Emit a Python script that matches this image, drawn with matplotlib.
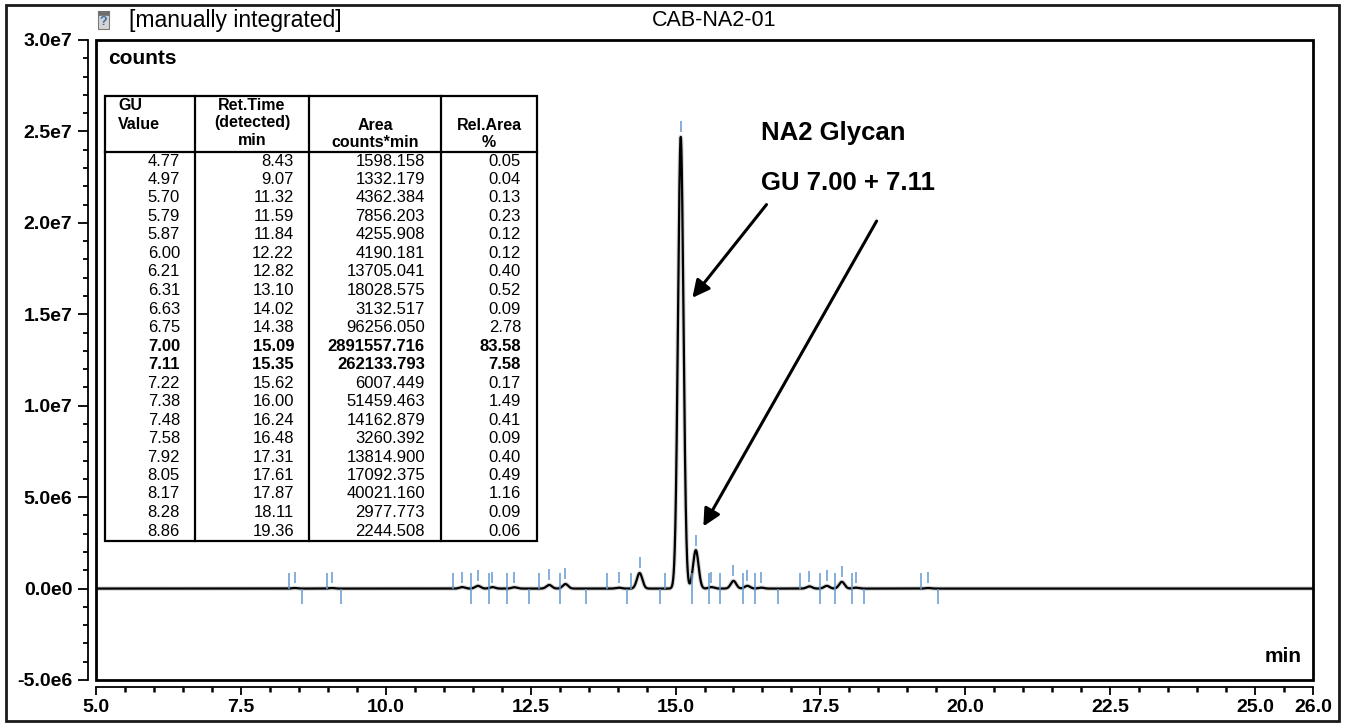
import numpy as np
import matplotlib
matplotlib.use("Agg")
import matplotlib.pyplot as plt
from matplotlib.patches import Rectangle
from matplotlib.lines import Line2D
from matplotlib.ticker import FixedLocator, MultipleLocator

plt.rcParams['font.family'] = ['Liberation Sans', 'DejaVu Sans']

# ---------------- data ----------------
gu_values = ["4.77", "4.97", "5.70", "5.79", "5.87", "6.00", "6.21", "6.31", "6.63", "6.75",
             "7.00", "7.11", "7.22", "7.38", "7.48", "7.58", "7.92", "8.05", "8.17", "8.28", "8.86"]
ret_times = [8.43, 9.07, 11.32, 11.59, 11.84, 12.22, 12.82, 13.10, 14.02, 14.38,
             15.09, 15.35, 15.62, 16.00, 16.24, 16.48, 17.31, 17.61, 17.87, 18.11, 19.36]
areas = ["1598.158", "1332.179", "4362.384", "7856.203", "4255.908", "4190.181", "13705.041",
         "18028.575", "3132.517", "96256.050", "2891557.716", "262133.793", "6007.449",
         "51459.463", "14162.879", "3260.392", "13814.900", "17092.375", "40021.160",
         "2977.773", "2244.508"]
rel_areas = ["0.05", "0.04", "0.13", "0.23", "0.12", "0.12", "0.40", "0.52", "0.09", "2.78",
             "83.58", "7.58", "0.17", "1.49", "0.41", "0.09", "0.40", "0.49", "1.16", "0.09", "0.06"]
bold_rows = [10, 11]

# peak heights (counts)
peak_heights = [0.03e6, 0.03e6, 0.08e6, 0.15e6, 0.08e6, 0.07e6, 0.20e6, 0.25e6, 0.05e6, 0.85e6,
                24.7e6, 2.1e6, 0.08e6, 0.42e6, 0.15e6, 0.05e6, 0.12e6, 0.15e6, 0.37e6, 0.05e6, 0.03e6]
peak_width = 0.047  # min (gaussian sigma)

# integration boundaries (min)
peak_starts = [8.33, 8.99, 11.16, 11.47, 11.78, 12.09, 12.64, 13.00, 13.82, 14.24,
               14.82, 15.28, 15.57, 15.77, 16.17, 16.38, 17.14, 17.50, 17.76, 18.05, 19.24]
peak_ends = [8.55, 9.23, 11.47, 11.78, 12.09, 12.48, 13.00, 13.46, 14.17, 14.73,
             15.28, 15.57, 15.77, 16.17, 16.38, 16.76, 17.50, 17.76, 18.05, 18.25, 19.53]

x_ticks = [5.0, 7.5, 10.0, 12.5, 15.0, 17.5, 20.0, 22.5, 25.0, 26.0]
x_labels = ["5.0", "7.5", "10.0", "12.5", "15.0", "17.5", "20.0", "22.5", "25.0", "26.0"]
y_ticks = [-5e6, 0, 5e6, 1e7, 1.5e7, 2e7, 2.5e7, 3e7]
y_labels = ["-5.0e6", "0.0e0", "5.0e6", "1.0e7", "1.5e7", "2.0e7", "2.5e7", "3.0e7"]

# ---------------- figure ----------------
W, H = 1346, 723
fig = plt.figure(figsize=(W / 100, H / 100), dpi=100)
def fx(px): return px / W
def fy(py): return 1 - py / H
PT = 0.72  # points per pixel

ax = fig.add_axes([fx(96), fy(680), fx(1313) - fx(96), fy(40) - fy(680)])
ax.set_xlim(5, 26)
ax.set_ylim(-5e6, 3e7)

# trace
t = np.linspace(5, 26, 12000)
sig = np.zeros_like(t)
for rt, h in zip(ret_times, peak_heights):
    sig += h * np.exp(-0.5 * ((t - rt) / peak_width) ** 2)
ax.plot(t, sig, color='#b0b0b0', lw=3.2, alpha=0.5, zorder=2, solid_capstyle='butt')
ax.plot(t, sig, color='black', lw=1.6, zorder=3)

# integration markers
blue = '#6399d0'
h_arr = np.array(peak_heights)
ax.vlines(ret_times, h_arr + 0.25e6, h_arr + 0.85e6, color=blue, lw=1.1, zorder=4)
ax.vlines(peak_starts, 0, 0.87e6, color=blue, lw=1.1, zorder=4)
ax.vlines(peak_ends, -0.82e6, 0, color=blue, lw=1.1, zorder=4)

# axes styling
for s in ['top', 'right']:
    ax.spines[s].set_visible(False)
ax.spines['left'].set_position(('outward', 8 * PT))
ax.spines['bottom'].set_position(('outward', 7 * PT))
ax.spines['left'].set_linewidth(1.3)
ax.spines['bottom'].set_linewidth(1.3)
ax.add_patch(Rectangle((0, 0), 1, 1, transform=ax.transAxes, fill=False,
                       lw=2.0, edgecolor='black', clip_on=False, zorder=5))

ax.xaxis.set_major_locator(FixedLocator(x_ticks))
ax.set_xticklabels(x_labels)
ax.xaxis.set_minor_locator(MultipleLocator(0.5))
ax.yaxis.set_major_locator(FixedLocator(y_ticks))
ax.set_yticklabels(y_labels)
ax.yaxis.set_minor_locator(MultipleLocator(1e6))
ax.tick_params(axis='y', which='major', length=10 * PT, width=1.3, pad=4, labelsize=14)
ax.tick_params(axis='y', which='minor', length=5 * PT, width=1.3)
ax.tick_params(axis='x', which='major', length=8 * PT, width=1.3, pad=3, labelsize=14)
ax.tick_params(axis='x', which='minor', length=5 * PT, width=1.8)
for lab in ax.get_xticklabels() + ax.get_yticklabels():
    lab.set_fontweight('bold')

# texts
fig.text(fx(108), fy(58), 'counts', fontsize=15, fontweight='bold', va='center', ha='left')
fig.text(fx(1302), fy(657), 'min', fontsize=15, fontweight='bold', va='center', ha='right')
fig.text(fx(714), fy(20), 'CAB-NA2-01', fontsize=15.5, va='center', ha='center')
fig.text(fx(129), fy(20), '[manually integrated]', fontsize=16.5, va='center', ha='left')

# small icon
fig.patches.append(Rectangle((fx(98), fy(29)), fx(109) - fx(98), fy(11) - fy(29),
                             transform=fig.transFigure, facecolor='#d4d4d4',
                             edgecolor='#7a7a7a', lw=0.8))
fig.patches.append(Rectangle((fx(98), fy(15)), fx(109) - fx(98), fy(11) - fy(15),
                             transform=fig.transFigure, facecolor='#6e6e6e',
                             edgecolor='#6e6e6e', lw=0.5))
fig.text(fx(103.5), fy(22), '?', fontsize=9, color='#3a6ea5', ha='center', va='center',
         fontweight='bold')

# annotation
ax.text(16.47, 24.9e6, 'NA2 Glycan', fontsize=18.5, fontweight='bold', va='center', ha='left')
ax.text(16.47, 22.2e6, 'GU 7.00 + 7.11', fontsize=18.5, fontweight='bold', va='center', ha='left')
arrow_kw = dict(arrowstyle='-|>', color='black', lw=2.2, mutation_scale=26,
                shrinkA=0, shrinkB=0)
ax.annotate('', xy=(15.29, 15.9e6), xytext=(16.57, 21.0e6), arrowprops=arrow_kw)
ax.annotate('', xy=(15.48, 3.4e6), xytext=(18.47, 20.1e6), arrowprops=arrow_kw)

# ---------------- table ----------------
tl, tr, tt, tb = 105, 537, 96, 541
hdr_bottom = 152
col_lines = [195, 309, 441]
lw_t = 1.6
def fline(x0, y0, x1, y1):
    fig.lines.append(Line2D([fx(x0), fx(x1)], [fy(y0), fy(y1)], transform=fig.transFigure,
                            color='black', lw=lw_t, solid_capstyle='projecting'))
fig.patches.append(Rectangle((fx(tl), fy(tb)), fx(tr) - fx(tl), fy(tt) - fy(tb),
                             transform=fig.transFigure, fill=False, lw=lw_t,
                             edgecolor='black', zorder=6))
for cx in col_lines:
    fline(cx, tt, cx, tb)
fline(tl, hdr_bottom, tr, hdr_bottom)

hfs = 11.5
fig.text(fx(118), fy(98), 'GU\nValue', fontsize=hfs, fontweight='bold', ha='left', va='top',
         linespacing=1.3)
fig.text(fx(252), fy(98), 'Ret.Time\n(detected)\nmin', fontsize=hfs, fontweight='bold',
         ha='center', va='top', linespacing=1.2, multialignment='center')
fig.text(fx(375), fy(150), 'Area\ncounts*min', fontsize=hfs, fontweight='bold',
         ha='center', va='bottom', linespacing=1.15, multialignment='center')
fig.text(fx(489), fy(150), 'Rel.Area\n%', fontsize=hfs, fontweight='bold',
         ha='center', va='bottom', linespacing=1.15, multialignment='center')

row0, dy = 161, 18.5
col_right = [180, 294, 425, 521]
vfs = 12
for i in range(len(gu_values)):
    y = row0 + i * dy
    w = 'bold' if i in bold_rows else 'normal'
    vals = [gu_values[i], f"{ret_times[i]:.2f}", areas[i], rel_areas[i]]
    for cr, v in zip(col_right, vals):
        fig.text(fx(cr), fy(y), v, fontsize=vfs, fontweight=w, ha='right', va='center')

# outer border
fig.patches.append(Rectangle((fx(6), fy(721)), fx(1339) - fx(6), fy(5) - fy(721),
                             transform=fig.transFigure, fill=False, lw=2.0,
                             edgecolor='#1a1a1a'))

fig.savefig('out.png', dpi=100)
